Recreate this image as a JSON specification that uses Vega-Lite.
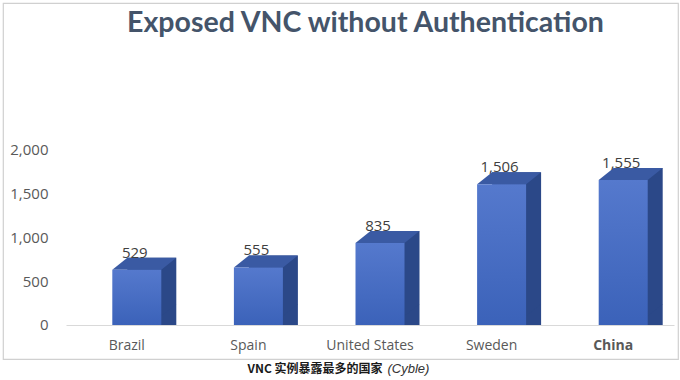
{
  "$schema": "https://vega.github.io/schema/vega-lite/v6.json",
  "autosize": "none",
  "width": 675,
  "height": 356,
  "padding": {"left": 3, "top": 3, "right": 2, "bottom": 21},
  "background": "white",
  "config": {
    "view": {"stroke": "#d0d0d0", "strokeWidth": 1.2},
    "axis": {"grid": false, "ticks": false}
  },
  "data": {
    "values": [
      {"country": "Brazil", "v": 529},
      {"country": "Spain", "v": 555},
      {"country": "United States", "v": 835},
      {"country": "Sweden", "v": 1506},
      {"country": "China", "v": 1555}
    ]
  },
  "resolve": {"axis": {"x": "independent"}},
  "layer": [
    {
      "mark": {"type": "bar", "width": 49, "xOffset": 25, "yOffset": -21, "color": "#2b4888"},
      "encoding": {
        "x": {
          "field": "country", "type": "nominal", "sort": null,
          "scale": {"range": [63, 671], "paddingInner": 0, "paddingOuter": 0},
          "axis": {
            "orient": "bottom",
            "offset": -34,
            "title": "VNC 实例暴露最多的国家",
            "titleFont": "Noto Sans CJK SC",
            "titleFontSize": 12,
            "titleFontWeight": "bold",
            "titleColor": "#1a1a1a",
            "titleX": 379,
            "titleY": 47,
            "titleAlign": "right",
            "titleBaseline": "alphabetic",
            "labelAngle": 0,
            "labelFont": "Open Sans",
            "labelFontSize": 14,
            "labelColor": "#595959",
            "labelPadding": 13,
            "labelFontWeight": {"condition": {"test": "datum.value == 'China'", "value": "bold"}, "value": "normal"},
            "domainColor": "#d9d9d9",
            "domainWidth": 1.2
          }
        },
        "y": {
          "field": "v", "type": "quantitative",
          "scale": {"domain": [-388.6, 3680], "nice": false, "zero": false},
          "axis": {
            "title": null,
            "values": [0, 500, 1000, 1500, 2000],
            "labelExpr": "format(datum.value, ',')",
            "offset": -63,
            "domain": false,
            "labelPadding": 18,
            "labelFont": "Open Sans",
            "labelFontSize": 15,
            "labelColor": "#595959"
          }
        },
        "y2": {"datum": 0}
      }
    },
    {
      "mark": {"type": "point", "shape": "M34.5,-9 L34.5,-21 L49.5,-21 Z", "size": 4, "filled": true, "opacity": 1, "strokeWidth": 0, "color": "#2b4888"},
      "encoding": {
        "x": {
          "field": "country", "type": "nominal", "sort": null,
          "axis": {
            "orient": "bottom",
            "offset": -34,
            "labels": false,
            "domain": false,
            "title": "(Cyble)",
            "titleFont": "Liberation Sans",
            "titleFontSize": 13,
            "titleFontWeight": "normal",
            "titleFontStyle": "italic",
            "titleColor": "#333333",
            "titleX": 384,
            "titleY": 47,
            "titleAlign": "left",
            "titleBaseline": "alphabetic"
          }
        },
        "y": {"datum": 0}
      }
    },
    {
      "mark": {"type": "point", "shape": "M-14.5,-9 L34.5,-9 L49.5,-21 L0.5,-21 Z", "size": 4, "filled": true, "opacity": 1, "strokeWidth": 0, "color": "#3a5aa3"},
      "encoding": {
        "x": {
          "field": "country", "type": "nominal", "sort": null,
          "axis": {
            "orient": "top",
            "offset": 0,
            "labels": false,
            "domain": false,
            "title": "Exposed VNC without Authentication",
            "titleFont": "Lato",
            "titleFontSize": 28.5,
            "titleFontWeight": "bold",
            "titleColor": "#44546a",
            "titleX": 362,
            "titleY": 28,
            "titleAlign": "center",
            "titleBaseline": "alphabetic"
          }
        },
        "y": {"field": "v", "type": "quantitative"}
      }
    },
    {
      "mark": {
        "type": "bar", "width": 49, "xOffset": 10, "yOffset": -9,
        "color": {
          "gradient": "linear", "x1": 0, "y1": 0, "x2": 0, "y2": 1,
          "stops": [{"offset": 0, "color": "#5579cd"}, {"offset": 1, "color": "#3b62b9"}]
        }
      },
      "encoding": {
        "x": {"field": "country", "type": "nominal", "sort": null, "axis": null},
        "y": {"field": "v", "type": "quantitative"},
        "y2": {"datum": 0}
      }
    },
    {
      "mark": {"type": "text", "xOffset": 8, "dy": -21, "baseline": "alphabetic", "font": "Open Sans", "fontSize": 15, "color": "#404040"},
      "encoding": {
        "x": {"field": "country", "type": "nominal", "sort": null, "axis": null},
        "y": {"field": "v", "type": "quantitative"},
        "text": {"field": "v", "type": "quantitative", "format": ","}
      }
    }
  ]
}
